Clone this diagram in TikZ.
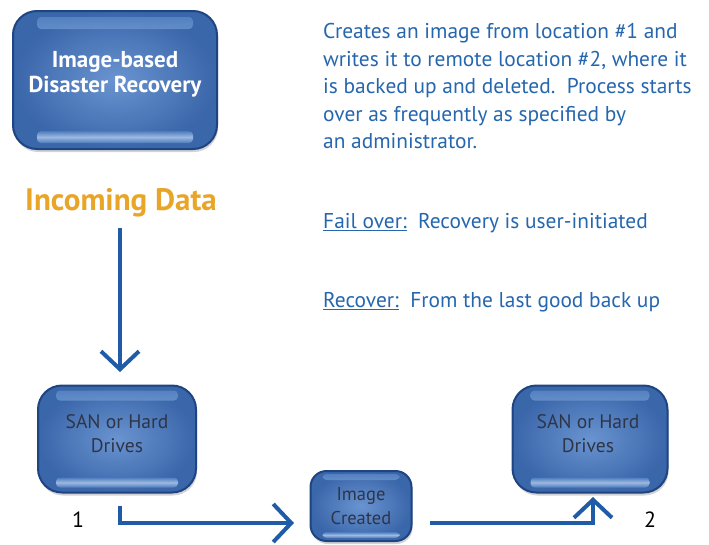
\documentclass[tikz,border=0pt]{standalone}
\usepackage{fontspec}
\setmainfont{PT Sans}
\usetikzlibrary{arrows.meta,shadows}

\definecolor{flowblue}{HTML}{1F5BA6}
\definecolor{textblue}{HTML}{2566AE}
\definecolor{datagold}{HTML}{E9A527}
\definecolor{boxtext}{HTML}{2E3548}
\definecolor{boxedge}{HTML}{1E4482}
\definecolor{panelmid}{HTML}{6A94D0}
\definecolor{panelrim}{HTML}{3A66AA}
\definecolor{bandedge}{HTML}{5080C2}
\definecolor{glosscol}{HTML}{AFC8EA}

\tikzset{
  x=1pt, y=-1pt,
  gloss/.style={top color=bandedge, bottom color=bandedge,
    middle color=glosscol, opacity=0.85},
  % #1 side inset, #2 distance of the band from the rim, #3 band height
  panel/.style n args={3}{inner color=panelmid, outer color=panelrim,
    draw=boxedge, line width=2pt, rounded corners=24pt, inner sep=0pt,
    drop shadow={shadow xshift=1pt, shadow yshift=-3pt, opacity=0.35},
    path picture={
      % soft glossy bands under the top and bottom rims
      \shade[gloss, rounded corners=4pt]
        ([xshift=#1pt,yshift=-#2pt]path picture bounding box.north west)
        rectangle ([xshift=-#1pt,yshift=-#2pt-#3pt]path picture bounding box.north east);
      \shade[gloss, rounded corners=4pt]
        ([xshift=#1pt,yshift=#2pt]path picture bounding box.south west)
        rectangle ([xshift=-#1pt,yshift=#2pt+#3pt]path picture bounding box.south east);
    }},
  paneltext/.style={align=center, inner sep=0pt, text=boxtext,
    font=\fontsize{19.6}{23.5}\selectfont},
  flow/.style={draw=flowblue, line width=4pt,
    -{Straight Barb[length=18pt,width=38pt]}},
  note/.style={text=textblue, font=\fontsize{21.4}{27.5}\selectfont,
    align=left, anchor=north west, inner sep=0pt},
  numlabel/.style={font=\fontsize{22}{26}\selectfont, text=black}
}

\begin{document}
\begin{tikzpicture}
\useasboundingbox (0,0) rectangle (709,544);

% title panel
\node[panel={24}{6}{12}, minimum width=204pt, minimum height=138pt]
  (title) at (115,80) {};
\node[paneltext, text=white, font=\fontsize{23}{25}\selectfont\bfseries]
  (titletext) at ([yshift=5.5pt]title.center)
  {Image-based\\Disaster Recovery};

% description
\node[note] (desc) at (323,23.5)
  {Creates an image from location \#1 and\\
   writes it to remote location \#2, where it\\
   is backed up and deleted.\ \ Process starts\\
   over as frequently as specified by\\
   an administrator.};
\node[note] (fail) at (323,213.5)
  {\underline{Fail over:}\ \ Recovery is user-initiated};
\node[note] (recover) at (323,292.5)
  {\underline{Recover:}\ \ From the last good back up};

% incoming data
\node[text=datagold, font=\fontsize{31}{34}\selectfont\bfseries] (incoming)
  at (121,203) {Incoming Data};

% storage and image panels
\node[panel={18}{5}{10}, minimum width=158pt, minimum height=107pt]
  (san1) at (117,439) {};
\node[paneltext] (san1text) at ([yshift=5.5pt]san1.center) {SAN or Hard\\Drives};
\node[panel={18}{5}{10}, minimum width=155pt, minimum height=107pt]
  (san2) at (590,439) {};
\node[paneltext] (san2text) at ([yshift=5.5pt,xshift=-2pt]san2.center) {SAN or Hard\\Drives};
\node[panel={12}{3}{6}, minimum width=101pt, minimum height=70pt,
      rounded corners=16pt] (img) at (361,506) {};
\node[paneltext, font=\fontsize{18.5}{24}\selectfont] (imgtext) at (img.center)
  {Image\\Created};

\node[numlabel] (n1) at (78,520) {1};
\node[numlabel] (n2) at (650,520) {2};

% connectors
\coordinate (inTop) at (120,228);
\coordinate (inEnd) at (120,372);
\draw[flow] (inTop) -- (inEnd);
\coordinate (outStart) at (120,506);
\coordinate (toImg) at (294,523);
\draw[flow] (outStart) |- (toImg);
\coordinate (imgOut) at (430,523);
\coordinate (toSan2) at (593,497);
\draw[flow] (imgOut) -| (toSan2);
\end{tikzpicture}
\end{document}
